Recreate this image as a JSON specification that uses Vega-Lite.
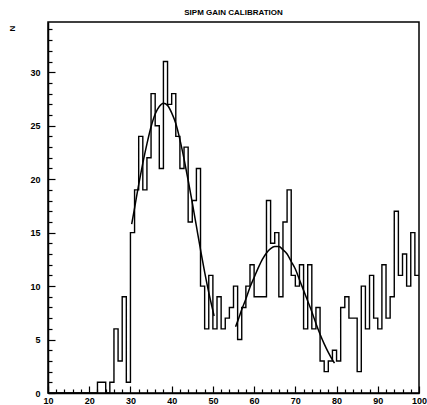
{
  "$schema": "https://vega.github.io/schema/vega-lite/v6.json",
  "width": 371,
  "height": 371,
  "autosize": {"type": "none"},
  "padding": {"left": 48, "top": 22, "right": 8, "bottom": 12},
  "background": "white",
  "title": {"text": "SIPM GAIN CALIBRATION", "font": "Liberation Sans", "fontSize": 8, "fontWeight": "bold", "anchor": "middle", "offset": 5, "color": "black"},
  "config": {
    "view": {"stroke": "black", "strokeWidth": 1.5},
    "axis": {
      "labelFont": "Liberation Sans", "labelFontWeight": "bold", "labelFontSize": 9, "labelColor": "black",
      "titleFont": "Liberation Sans", "titleFontWeight": "bold", "titleFontSize": 8, "titleColor": "black",
      "tickColor": "black", "tickWidth": 1.2, "domainColor": "black", "domainWidth": 1.5, "grid": false
    }
  },
  "datasets": {
    "hist": [
      {"x": 10, "n": 0}, {"x": 11, "n": 0}, {"x": 12, "n": 0}, {"x": 13, "n": 0}, {"x": 14, "n": 0},
      {"x": 15, "n": 0}, {"x": 16, "n": 0}, {"x": 17, "n": 0}, {"x": 18, "n": 0}, {"x": 19, "n": 0},
      {"x": 20, "n": 0}, {"x": 21, "n": 0}, {"x": 22, "n": 1}, {"x": 23, "n": 1}, {"x": 24, "n": 0},
      {"x": 25, "n": 1}, {"x": 26, "n": 6}, {"x": 27, "n": 3}, {"x": 28, "n": 9}, {"x": 29, "n": 1},
      {"x": 30, "n": 15}, {"x": 31, "n": 19}, {"x": 32, "n": 24}, {"x": 33, "n": 19}, {"x": 34, "n": 22},
      {"x": 35, "n": 28}, {"x": 36, "n": 25}, {"x": 37, "n": 21}, {"x": 38, "n": 31}, {"x": 39, "n": 27},
      {"x": 40, "n": 28}, {"x": 41, "n": 24}, {"x": 42, "n": 21}, {"x": 43, "n": 23}, {"x": 44, "n": 16},
      {"x": 45, "n": 18}, {"x": 46, "n": 21}, {"x": 47, "n": 10}, {"x": 48, "n": 6}, {"x": 49, "n": 11},
      {"x": 50, "n": 6}, {"x": 51, "n": 9}, {"x": 52, "n": 6}, {"x": 53, "n": 7}, {"x": 54, "n": 8},
      {"x": 55, "n": 10}, {"x": 56, "n": 5}, {"x": 57, "n": 8}, {"x": 58, "n": 10}, {"x": 59, "n": 12},
      {"x": 60, "n": 9}, {"x": 61, "n": 9}, {"x": 62, "n": 9}, {"x": 63, "n": 18}, {"x": 64, "n": 14},
      {"x": 65, "n": 15}, {"x": 66, "n": 9}, {"x": 67, "n": 16}, {"x": 68, "n": 19}, {"x": 69, "n": 11},
      {"x": 70, "n": 10}, {"x": 71, "n": 12}, {"x": 72, "n": 6}, {"x": 73, "n": 12}, {"x": 74, "n": 6},
      {"x": 75, "n": 8}, {"x": 76, "n": 3}, {"x": 77, "n": 2}, {"x": 78, "n": 3}, {"x": 79, "n": 4},
      {"x": 80, "n": 3}, {"x": 81, "n": 8}, {"x": 82, "n": 9}, {"x": 83, "n": 7}, {"x": 84, "n": 7},
      {"x": 85, "n": 2}, {"x": 86, "n": 10}, {"x": 87, "n": 6}, {"x": 88, "n": 11}, {"x": 89, "n": 7},
      {"x": 90, "n": 6}, {"x": 91, "n": 12}, {"x": 92, "n": 7}, {"x": 93, "n": 9}, {"x": 94, "n": 17},
      {"x": 95, "n": 11}, {"x": 96, "n": 13}, {"x": 97, "n": 10}, {"x": 98, "n": 15}, {"x": 99, "n": 11},
      {"x": 100, "n": 11}
    ],
    "fit": [
      {"fit": 1, "x": 30.3, "y": 15.8}, {"fit": 1, "x": 31, "y": 17.3}, {"fit": 1, "x": 32, "y": 19.5},
      {"fit": 1, "x": 33, "y": 21.5}, {"fit": 1, "x": 34, "y": 23.3}, {"fit": 1, "x": 35, "y": 24.9},
      {"fit": 1, "x": 36, "y": 26.1}, {"fit": 1, "x": 37, "y": 26.8}, {"fit": 1, "x": 38, "y": 27.1},
      {"fit": 1, "x": 39, "y": 26.9}, {"fit": 1, "x": 40, "y": 26.2}, {"fit": 1, "x": 41, "y": 25.2},
      {"fit": 1, "x": 42, "y": 23.7}, {"fit": 1, "x": 43, "y": 21.9}, {"fit": 1, "x": 44, "y": 19.9},
      {"fit": 1, "x": 45, "y": 17.8}, {"fit": 1, "x": 46, "y": 15.6}, {"fit": 1, "x": 47, "y": 13.4},
      {"fit": 1, "x": 48, "y": 11.3}, {"fit": 1, "x": 49, "y": 9.4}, {"fit": 1, "x": 50, "y": 7.7},
      {"fit": 1, "x": 50.3, "y": 7.2},
      {"fit": 2, "x": 55.5, "y": 6.2}, {"fit": 2, "x": 56, "y": 6.7}, {"fit": 2, "x": 57, "y": 7.8},
      {"fit": 2, "x": 58, "y": 8.8}, {"fit": 2, "x": 59, "y": 9.9}, {"fit": 2, "x": 60, "y": 10.8},
      {"fit": 2, "x": 61, "y": 11.7}, {"fit": 2, "x": 62, "y": 12.5}, {"fit": 2, "x": 63, "y": 13.1},
      {"fit": 2, "x": 64, "y": 13.5}, {"fit": 2, "x": 65, "y": 13.7}, {"fit": 2, "x": 66, "y": 13.7},
      {"fit": 2, "x": 67, "y": 13.4}, {"fit": 2, "x": 68, "y": 13.0}, {"fit": 2, "x": 69, "y": 12.3},
      {"fit": 2, "x": 70, "y": 11.6}, {"fit": 2, "x": 71, "y": 10.6}, {"fit": 2, "x": 72, "y": 9.6},
      {"fit": 2, "x": 73, "y": 8.6}, {"fit": 2, "x": 74, "y": 7.6}, {"fit": 2, "x": 75, "y": 6.5},
      {"fit": 2, "x": 76, "y": 5.5}, {"fit": 2, "x": 77, "y": 4.6}, {"fit": 2, "x": 78, "y": 3.8},
      {"fit": 2, "x": 79, "y": 3.1}, {"fit": 2, "x": 79.5, "y": 2.8}
    ]
  },
  "layer": [
    {
      "data": {"name": "hist"},
      "mark": {"type": "line", "interpolate": "step-after", "color": "black", "strokeWidth": 1.4},
      "encoding": {
        "x": {"field": "x", "type": "quantitative",
          "scale": {"domain": [10, 100], "nice": false, "zero": false},
          "axis": {"orient": "bottom", "values": [10, 20, 30, 40, 50, 60, 70, 80, 90, 100], "tickSize": -7, "labelPadding": 10, "title": null, "labelFlush": false}},
        "y": {"field": "n", "type": "quantitative",
          "scale": {"domain": [0, 34.7], "nice": false},
          "axis": {"orient": "left", "values": [0, 5, 10, 15, 20, 25, 30], "tickSize": -7, "labelPadding": 15, "title": "N", "titleAnchor": "end", "titleAngle": -90, "titleX": -36, "titleY": 6, "titleAlign": "center", "titleBaseline": "middle"}}
      }
    },
    {
      "data": {"name": "fit"},
      "mark": {"type": "line", "interpolate": "monotone", "color": "black", "strokeWidth": 1.5},
      "encoding": {
        "x": {"field": "x", "type": "quantitative",
          "axis": {"orient": "bottom", "values": [12, 14, 16, 18, 22, 24, 26, 28, 32, 34, 36, 38, 42, 44, 46, 48, 52, 54, 56, 58, 62, 64, 66, 68, 72, 74, 76, 78, 82, 84, 86, 88, 92, 94, 96, 98], "tickSize": -4, "labels": false, "domain": false, "title": null}},
        "y": {"field": "y", "type": "quantitative",
          "axis": {"orient": "left", "values": [1, 2, 3, 4, 6, 7, 8, 9, 11, 12, 13, 14, 16, 17, 18, 19, 21, 22, 23, 24, 26, 27, 28, 29, 31, 32, 33, 34], "tickSize": -4, "labels": false, "domain": false, "title": null}},
        "detail": {"field": "fit", "type": "nominal"}
      }
    }
  ],
  "resolve": {"axis": {"x": "independent", "y": "independent"}}
}
